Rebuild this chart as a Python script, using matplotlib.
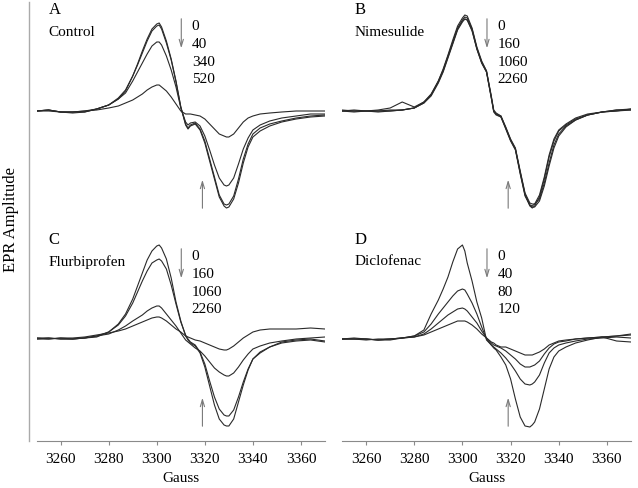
import matplotlib
matplotlib.use("Agg")
import matplotlib.pyplot as plt
from matplotlib.lines import Line2D

plt.rcParams['font.family'] = ['Liberation Serif', 'DejaVu Serif']

# field positions (Gauss) shared by all traces
gauss = [3250, 3255, 3260, 3265, 3270, 3275, 3280, 3284, 3287, 3290, 3292, 3294, 3296, 3298,
         3300, 3301, 3302, 3304, 3306, 3308, 3310, 3312, 3313, 3314, 3316, 3318, 3320, 3322,
         3324, 3326, 3328, 3329, 3330, 3332, 3334, 3336, 3338, 3340, 3343, 3347, 3352, 3358,
         3364, 3370]

# A - Control (0, 40, 340, 520)
a_0 = [0, 1, -1, -2, -1, 2, 6, 12, 20, 35, 47, 60, 72, 82, 87, 88, 84, 70, 52, 30, 4, -14, -18,
       -15, -13, -19, -32, -50, -68, -86, -95, -97, -96, -88, -72, -52, -36, -26, -20, -15, -11,
       -8, -6, -5]
a_40 = [0, 0, -1, -1, -1, 2, 6, 13, 21, 35, 46, 58, 70, 80, 85, 86, 82, 68, 51, 29, 4, -13, -17,
        -14, -12, -18, -30, -48, -66, -84, -93, -94, -93, -85, -68, -48, -33, -23, -17, -13, -10,
        -7, -5, -4]
a_340 = [0, 1, -1, -1, 0, 2, 6, 12, 18, 30, 39, 48, 57, 65, 69, 69, 66, 55, 41, 24, 3, -11, -14,
         -12, -11, -15, -25, -39, -54, -67, -74, -75, -74, -67, -53, -38, -27, -19, -14, -10, -7,
         -5, -3, -3]
a_520 = [0, 1, -1, -1, 0, 1, 3, 5, 8, 11, 14, 17, 21, 24, 26, 26, 24, 20, 14, 7, 0, -3, -3, -3,
         -4, -5, -8, -13, -18, -23, -25, -26, -26, -23, -17, -11, -7, -5, -3, -2, -1, 0, 0, 0]

# B - Nimesulide (0, 160, 1060, 2260)
b_0 = [0, 0, 0, 0, 1, 1, 3, 9, 17, 30, 41, 55, 69, 83, 91, 94, 93, 82, 63, 49, 40, 14, 0, -3,
       -5, -17, -29, -38, -62, -84, -95, -97, -95, -86, -68, -46, -30, -20, -14, -8, -4, -1, 0, 2]
b_160 = [0, 1, 0, 1, 3, 9, 4, 9, 16, 29, 40, 54, 68, 82, 90, 92, 91, 81, 62, 48, 39, 13, 0, -3,
         -6, -18, -30, -39, -63, -85, -94, -95, -93, -84, -66, -44, -28, -19, -13, -7, -3, -1,
         1, 1]
b_1060 = [0, -1, 0, -1, 0, 1, 3, 8, 16, 30, 42, 56, 71, 85, 93, 96, 95, 83, 64, 50, 40, 15, 1,
          -2, -5, -16, -28, -37, -60, -82, -92, -93, -93, -88, -72, -52, -34, -23, -15, -9, -4,
          -1, 0, 1]
b_2260 = [1, 0, 0, 0, 0, 1, 3, 8, 15, 28, 39, 53, 67, 81, 89, 92, 91, 80, 62, 48, 39, 13, -1,
          -4, -6, -17, -29, -38, -61, -83, -94, -96, -96, -90, -75, -55, -37, -25, -16, -9, -4,
          -1, 1, 2]

# C - Flurbiprofen (0, 160, 1060, 2260)
c_0 = [0, 1, 0, 0, 1, 2, 7, 15, 25, 40, 53, 66, 79, 88, 93, 94, 91, 80, 61, 37, 18, 3, -1, -4,
       -7, -14, -28, -47, -66, -80, -86, -87, -87, -80, -63, -46, -31, -20, -14, -8, -3, -1, 0,
       -2]
c_160 = [0, 0, 1, 0, 1, 3, 7, 14, 23, 36, 47, 58, 68, 76, 79, 80, 78, 70, 54, 35, 17, 4, 0, -3,
         -6, -13, -25, -42, -58, -70, -76, -77, -77, -71, -58, -43, -30, -20, -13, -8, -4, -2,
         -1, -3]
c_1060 = [1, 1, 0, 0, 1, 3, 5, 9, 13, 18, 21, 24, 28, 31, 33, 33, 31, 25, 19, 13, 6, -1, -3,
          -5, -9, -12, -17, -23, -29, -33, -36, -37, -37, -34, -28, -21, -15, -10, -7, -4, -2,
          0, 1, 2]
c_2260 = [1, 0, 1, 1, 2, 4, 6, 8, 10, 13, 15, 17, 19, 21, 22, 22, 21, 18, 14, 10, 7, 3, 2, 1,
          -1, -2, -4, -6, -8, -10, -11, -11, -10, -7, -3, 1, 4, 7, 9, 10, 10, 10, 11, 10]

# D - Diclofenac (0, 40, 80, 120)
d_0 = [0, 0, 0, -1, -1, 1, 3, 9, 25, 39, 50, 62, 77, 90, 94, 88, 76, 58, 37, 21, -1, -6, -9,
       -11, -18, -26, -40, -60, -78, -87, -88, -86, -83, -70, -50, -30, -18, -12, -8, -4, -1, 2,
       3, 4]
d_40 = [0, 1, 0, -1, 0, 1, 3, 7, 15, 25, 31, 37, 43, 48, 50, 49, 45, 36, 25, 12, 0, -6, -8,
        -10, -14, -19, -25, -32, -40, -45, -46, -45, -43, -36, -24, -14, -9, -6, -4, -2, 0, 1,
        2, 1]
d_80 = [0, 0, -1, 0, 0, 1, 2, 5, 10, 16, 20, 24, 27, 30, 31, 30, 28, 22, 16, 8, 1, -4, -6, -7,
        -9, -12, -16, -20, -25, -28, -28, -27, -26, -22, -15, -9, -5, -3, -2, 0, 1, 2, -2, -3]
d_120 = [0, 0, 0, -1, 0, 1, 2, 4, 7, 10, 12, 14, 16, 18, 18, 18, 17, 14, 10, 5, 1, -3, -4, -6,
         -8, -8, -10, -12, -14, -16, -16, -16, -15, -13, -10, -6, -4, -2, -1, 0, 1, 2, 3, 5]

panels = [
    ("A", "Control", ["0", "40", "340", "520"], [a_0, a_40, a_340, a_520]),
    ("B", "Nimesulide", ["0", "160", "1060", "2260"], [b_0, b_160, b_1060, b_2260]),
    ("C", "Flurbiprofen", ["0", "160", "1060", "2260"], [c_0, c_160, c_1060, c_2260]),
    ("D", "Diclofenac", ["0", "40", "80", "120"], [d_0, d_40, d_80, d_120]),
]

W, H = 638, 489
fig = plt.figure(figsize=(W / 100, H / 100), dpi=100)

# axes boxes in pixels: (left, top, right, bottom)
boxes = [(36.6, 3, 325, 225), (342, 3, 631, 225),
         (36.6, 230, 325, 442), (342, 230, 631, 442)]
ylims = [(-113, 109), (-113, 109), (-102, 110), (-102, 110)]

for i, (letter, name, doses, traces) in enumerate(panels):
    l, t, r, b = boxes[i]
    ax = fig.add_axes([l / W, 1 - b / H, (r - l) / W, (b - t) / H])
    for tr in traces:
        ax.plot(gauss, tr, color='#2a2a2a', lw=0.8)
    ax.set_xlim(3250, 3370)
    ax.set_ylim(*ylims[i])
    for s in ['top', 'right', 'left']:
        ax.spines[s].set_visible(False)
    ax.set_yticks([])
    top = i < 2
    if top:
        ax.spines['bottom'].set_visible(False)
        ax.set_xticks([])
    else:
        ax.spines['bottom'].set_color('#8a8a8a')
        ax.set_xticks([3260, 3280, 3300, 3320, 3340, 3360])
        ax.tick_params(axis='x', length=3, color='#8a8a8a', labelsize=11, pad=5)
        ax.set_xlabel("Gauss", fontsize=11, labelpad=4)

    off = 0 if top else -2
    ax.text(3255, 102 + off, letter, fontsize=12, ha='left', va='center')
    ax.text(3255, 80 + off, name, fontsize=11, ha='left', va='center')
    for k, d in enumerate(doses):
        ax.text(3314.6, 85 + off - 17.6 * k, d, fontsize=11, ha='left', va='center')
    ax.annotate('', xy=(3310.2, 60 + off), xytext=(3310.2, 95 + off),
                arrowprops=dict(arrowstyle='->,head_length=0.5,head_width=0.15',
                                color='#7a7a7a', lw=0.8))
    ya = -100 if top else -90
    ax.annotate('', xy=(3319, ya + 34), xytext=(3319, ya),
                arrowprops=dict(arrowstyle='->,head_length=0.5,head_width=0.15',
                                color='#7a7a7a', lw=0.8))

fig.add_artist(Line2D([29 / W, 29 / W], [1 - 3 / H, 1 - 442 / H],
                      color='#aaaaaa', lw=1))
fig.text(11 / W, 1 - 220 / H, "EPR Amplitude", rotation=90, fontsize=12,
         ha='center', va='center')

fig.savefig("out.png", dpi=100)
